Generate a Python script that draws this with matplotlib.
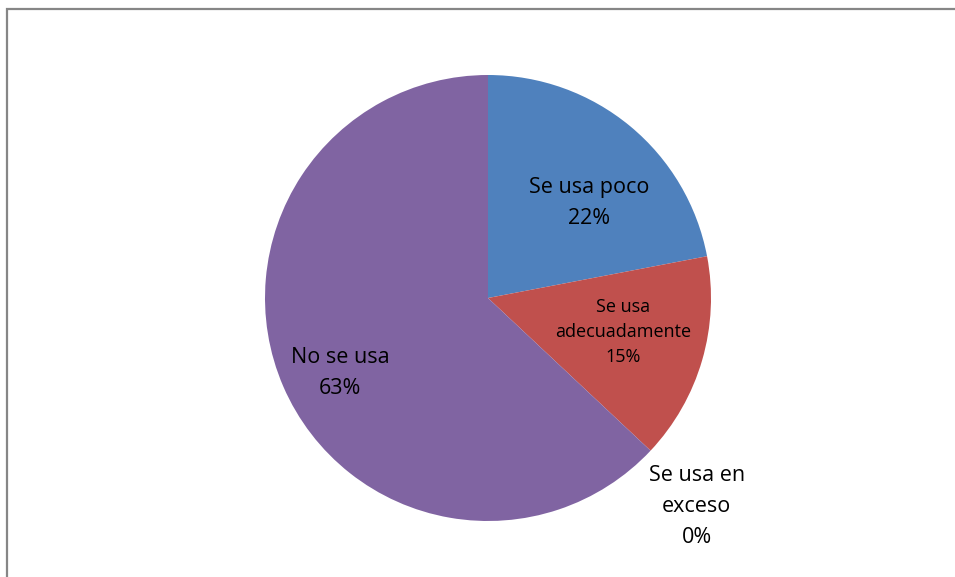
import numpy as np
import matplotlib
matplotlib.use("Agg")
import matplotlib.pyplot as plt
from matplotlib.patches import Rectangle

plt.rcParams["font.family"] = ["Open Sans", "DejaVu Sans"]

categorias = ["Se usa poco", "Se usa\nadecuadamente", "Se usa en\nexceso", "No se usa"]
porcentajes = [22, 15, 0, 63]
colores = ["#4F81BD", "#C0504D", "#9BBB59", "#8064A2"]
# label placement: distance from the centre (fraction of radius), angle shift, font size
dist_etiqueta = [0.622, 0.624, 1.322, 0.744]
ajuste_angulo = [-7.2, 2.1, -1.7, 3.5]
tam_etiqueta = [15.5, 13, 15.5, 15.5]

W, H = 955, 577
fig = plt.figure(figsize=(W / 100, H / 100), dpi=100)

# chart frame (runs off the right and bottom edges)
fig.patches.append(Rectangle((7 / W, -0.1), 1.2, 1 - 9 / H + 0.1, transform=fig.transFigure,
                             fill=False, edgecolor="#868686", linewidth=1.6))

cx, cy, r = 488, 298, 223
ax = fig.add_axes([(cx - r) / W, (H - cy - r) / H, 2 * r / W, 2 * r / H])
wedges, _ = ax.pie(porcentajes, colors=colores, startangle=90, counterclock=False,
                   radius=1, wedgeprops=dict(linewidth=0))
ax.set_xlim(-1, 1)
ax.set_ylim(-1, 1)
ax.axis("off")

for w, cat, p, d, fs, da in zip(wedges, categorias, porcentajes, dist_etiqueta, tam_etiqueta, ajuste_angulo):
    ang = np.deg2rad((w.theta1 + w.theta2) / 2 + da)
    ax.text(d * np.cos(ang), d * np.sin(ang), f"{cat}\n{p}%", ha="center", va="center",
            fontsize=fs, linespacing=1.62 if fs > 14 else 1.5, clip_on=False)

fig.savefig("out.png", dpi=100)
